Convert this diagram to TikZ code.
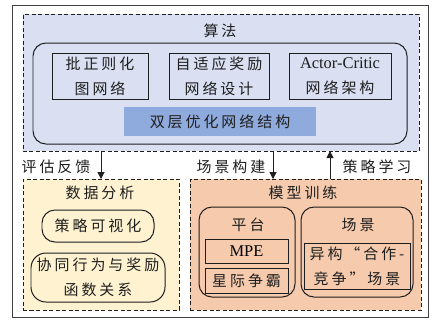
\documentclass[tikz,border=0pt]{standalone}
\usepackage{fontspec}
\setmainfont{Liberation Serif}
\newfontfamily\cjk[LetterSpace=20]{Noto Sans CJK SC}
\usetikzlibrary{arrows.meta}
\definecolor{lav}{RGB}{218,224,242}
\definecolor{barblue}{RGB}{143,170,220}
\definecolor{yel}{RGB}{254,242,208}
\definecolor{org}{RGB}{246,203,173}
\definecolor{ink}{RGB}{30,30,30}
\tikzset{
  every node/.style={inner sep=0pt, outer sep=0pt},
  txt/.style={font=\fontsize{15}{25}\selectfont\cjk, text=ink, align=center},
  dbox/.style={draw=ink, line width=0.9pt, dash pattern=on 4bp off 2.5bp},
  sbox/.style={draw=ink, line width=1pt},
  rbox/.style={draw=ink, line width=1pt, rounded corners=13bp},
  arr/.style={draw=ink, line width=1pt, -{Triangle[length=7bp,width=7bp]}},
}
\begin{document}
\begin{tikzpicture}[x=1bp,y=-1bp]
\useasboundingbox (0,0) rectangle (434,323);
% outer frame
\node[draw=black!75, line width=1pt, minimum width=415bp, minimum height=312bp] (outer) at (220.5,161) {};
% algorithm
\node[dbox, fill=lav, minimum width=396bp, minimum height=137bp] (algo) at (221,82.5) {};
\node[txt] (algot) at (220,31) {算法};
\node[rbox, minimum width=374bp, minimum height=101bp] (inner) at (220,93.5) {};
\node[sbox, minimum width=96bp, minimum height=46bp, txt] (b1) at (100,76) {批正则化\\图网络};
\node[sbox, minimum width=100bp, minimum height=46bp, txt] (b2) at (219,76) {自适应奖励\\网络设计};
\node[sbox, minimum width=102bp, minimum height=46bp, txt] (b3) at (340,76) {{\rmfamily\fontsize{16.5}{25}\selectfont Actor-Critic}\\网络架构};
\node[fill=barblue, minimum width=192bp, minimum height=29bp, txt] (bar) at (220,121.5) {双层优化网络结构};
% data analysis
\node[dbox, fill=yel, minimum width=156bp, minimum height=131bp] (data) at (101,244.5) {};
\node[txt] (datat) at (100,193) {数据分析};
\node[rbox, minimum width=112bp, minimum height=32bp, txt] (d1) at (98,226) {策略可视化};
\node[rbox, rounded corners=15bp, minimum width=134bp, minimum height=49bp, txt] (d2) at (98,277.5) {协同行为与奖励\\函数关系};
% model training
\node[dbox, fill=org, minimum width=231bp, minimum height=131bp] (train) at (305.5,244.5) {};
\node[txt] (traint) at (303,193) {模型训练};
\node[rbox, minimum width=96bp, minimum height=90bp] (plat) at (247,252) {};
\node[txt] (platt) at (248,225) {平台};
\node[sbox, minimum width=83bp, minimum height=24bp] (mpe) at (246.5,251) {\fontsize{16.5}{20}\selectfont MPE};
\node[sbox, minimum width=83bp, minimum height=25bp, txt] (sc) at (246.5,280.5) {星际争霸};
\node[rbox, minimum width=112bp, minimum height=90bp] (scene) at (357,252) {};
\node[txt] (scenet) at (358,225) {场景};
\node[sbox, minimum width=106bp, minimum height=46bp, txt] (het) at (357,266) {异构“合作-\\竞争”场景};
% connectors
\coordinate (a1s) at (101,151);
\coordinate (a1e) at (101,179);
\coordinate (a2s) at (273,151);
\coordinate (a2e) at (273,179);
\coordinate (a3s) at (330,179);
\coordinate (a3e) at (330,151);
\draw[arr] (a1s) -- (a1e);
\draw[arr] (a2s) -- (a2e);
\draw[arr] (a3s) -- (a3e);
\node[txt] (l1) at (56,167) {评估反馈};
\node[txt] (l2) at (231,167) {场景构建};
\node[txt] (l3) at (377,167) {策略学习};
\end{tikzpicture}
\end{document}
